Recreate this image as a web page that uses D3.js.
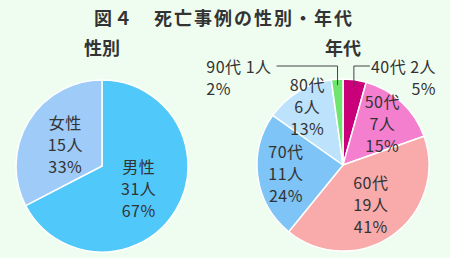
<!DOCTYPE html>
<html lang="ja">
<head>
<meta charset="UTF-8" />
<title>図4 死亡事例の性別・年代</title>
<script src="https://d3js.org/d3.v7.min.js"></script>
<style>
    body { margin: 0; background: #effdf0; }
    svg text { font-family: "Noto Sans CJK JP", "Noto Sans", sans-serif; fill: #333; }
</style>
</head>
<body>
<div id="chart"></div>
<script>
    const width = 450, height = 258;

    // 性別
    const sexNames = ["男性", "女性"];
    const sexCounts = [31, 15];
    const sexPercents = ["67%", "33%"];
    const sexColors = ["#50c8fa", "#9ecbf7"];

    // 年代
    const ageNames = ["40代", "50代", "60代", "70代", "80代", "90代"];
    const ageCounts = [2, 7, 19, 11, 6, 1];
    const agePercents = ["5%", "15%", "41%", "24%", "13%", "2%"];
    const ageColors = ["#c9007a", "#f47fcf", "#f9abab", "#7ec4f7", "#bce3fb", "#6fe46f"];

    const svg = d3.select("#chart").append("svg")
        .attr("width", width)
        .attr("height", height);

    svg.append("text")
        .attr("x", 224).attr("y", 17)
        .attr("text-anchor", "middle")
        .attr("dominant-baseline", "central")
        .style("font-size", "18px")
        .style("font-weight", "bold")
        .style("letter-spacing", "2px")
        .text("図４　死亡事例の性別・年代");

    const radius = 86;
    const labelSize = "16px";
    const lineGap = 22;
    const pie = d3.pie().sort(null).value(d => d.count);

    function drawPie(cx, cy, title, rows, labelR) {
        const g = svg.append("g").attr("transform", `translate(${cx},${cy})`);
        const arc = d3.arc().innerRadius(0).outerRadius(radius);
        const arcs = pie(rows);

        svg.append("text")
            .attr("x", cx).attr("y", 47)
            .attr("text-anchor", "middle")
            .attr("dominant-baseline", "central")
            .style("font-size", "18px")
            .style("font-weight", "bold")
            .text(title);

        g.selectAll("path").data(arcs).join("path")
            .attr("d", arc)
            .attr("fill", d => d.data.color)
            .attr("stroke", "#fff")
            .attr("stroke-width", 1.5);

        arcs.forEach((a, i) => {
            const k = labelR[i];
            const mid = (a.startAngle + a.endAngle) / 2;
            if (k) {
                const x = Math.sin(mid) * radius * k;
                const y = -Math.cos(mid) * radius * k;
                const t = g.append("text")
                    .attr("text-anchor", "middle")
                    .style("font-size", labelSize)
                    .style("letter-spacing", "0.5px");
                [a.data.name, a.data.count + "人", a.data.pct].forEach((s, j) => {
                    t.append("tspan")
                        .attr("x", x)
                        .attr("y", y + (j - 1) * lineGap)
                        .attr("dominant-baseline", "central")
                        .text(s);
                });
            } else {
                // leader line label
                const px = Math.sin(mid) * radius * 0.93;
                const py = -Math.cos(mid) * radius * 0.93;
                const ly = -radius - 13;
                const side = Math.sin(mid) >= 0 ? 1 : -1;
                const ex = px + side * (side > 0 ? 16 : 61);
                g.append("polyline")
                    .attr("points", [[px, py], [px, ly], [ex, ly]].map(p => p.join(",")).join(" "))
                    .attr("fill", "none")
                    .attr("stroke", "#444")
                    .attr("stroke-width", 1);
                const first = g.append("text")
                    .attr("x", side > 0 ? ex + 1 : ex - 5)
                    .attr("y", ly)
                    .attr("dominant-baseline", "central")
                    .attr("text-anchor", side > 0 ? "start" : "end")
                    .style("font-size", labelSize)
                    .style("letter-spacing", "0.5px")
                    .text(`${a.data.name} ${a.data.count}人`);
                const bb = first.node().getBBox();
                g.append("text")
                    .attr("x", side > 0 ? bb.x + bb.width : bb.x)
                    .attr("y", ly + lineGap)
                    .attr("dominant-baseline", "central")
                    .attr("text-anchor", side > 0 ? "end" : "start")
                    .style("font-size", labelSize)
                    .style("letter-spacing", "0.5px")
                    .text(a.data.pct);
            }
        });
    }

    const sexRows = sexNames.map((n, i) => ({ name: n, count: sexCounts[i], pct: sexPercents[i], color: sexColors[i] }));
    const ageRows = ageNames.map((n, i) => ({ name: n, count: ageCounts[i], pct: agePercents[i], color: ageColors[i] }));

    drawPie(102, 166, "性別", sexRows, [0.5, 0.5]);
    drawPie(343, 165, "年代", ageRows, [null, 0.67, 0.56, 0.67, 0.8, null]);
</script>
</body>
</html>
